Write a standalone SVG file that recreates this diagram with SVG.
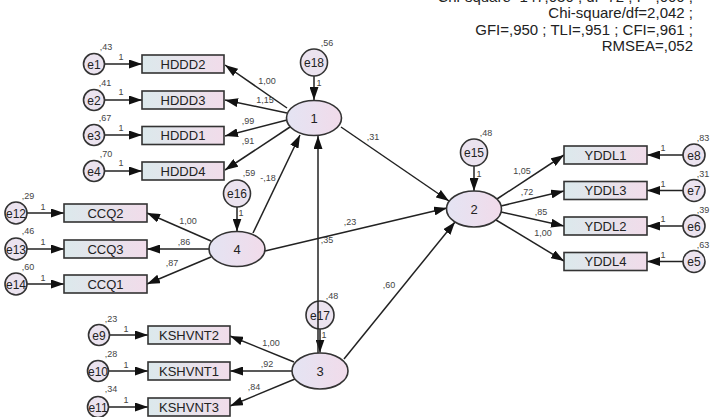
<svg xmlns="http://www.w3.org/2000/svg" width="715" height="417" viewBox="0 0 715 417">
<defs>
<linearGradient id="gRect" x1="0" y1="0" x2="1" y2="0">
<stop offset="0" stop-color="#dce9ec"/><stop offset="1" stop-color="#f1dcea"/>
</linearGradient>
<linearGradient id="gEll" x1="0" y1="0" x2="1" y2="0">
<stop offset="0" stop-color="#e4e4f3"/><stop offset="1" stop-color="#f1dbea"/>
</linearGradient>
<marker id="ah" markerUnits="userSpaceOnUse" markerWidth="13" markerHeight="9" viewBox="0 0 13 9" refX="13" refY="4.5" orient="auto">
<path d="M0,0 L13,4.5 L0,9 z" fill="#111"/>
</marker>
<style>
.obs{fill:url(#gRect);stroke:#333;stroke-width:1.6}
.lat{fill:url(#gEll);stroke:#333;stroke-width:1.6}
.err{fill:#ebe3ef;stroke:#333;stroke-width:1.6}
.nt{font-family:"Liberation Sans",Arial,sans-serif;font-size:13px;fill:#222;text-anchor:middle}
.et{font-family:"Liberation Sans",Arial,sans-serif;font-size:12px;fill:#222;text-anchor:middle}
.sl{font-family:"Liberation Sans",Arial,sans-serif;font-size:9px;fill:#444;text-anchor:middle}
.fit{font-family:"Liberation Sans",Arial,sans-serif;font-size:15px;fill:#222;text-anchor:end}
.c line{stroke:#222;stroke-width:1.5;marker-end:url(#ah)}
</style>
</defs>
<rect width="715" height="417" fill="#fff"/>

<g id="fit">
<text class="fit" x="693" y="2">Chi-square=147,030 ; df=72 ; P=,000 ;</text>
<text class="fit" x="693" y="18">Chi-square/df=2,042 ;</text>
<text class="fit" x="693" y="35">GFI=,950 ; TLI=,951 ; CFI=,961 ;</text>
<text class="fit" x="693" y="51">RMSEA=,052</text>
</g>

<g class="c" id="connectors">
<line x1="105" y1="64" x2="142" y2="64"/>
<line x1="105" y1="100" x2="142" y2="100"/>
<line x1="105" y1="135" x2="142" y2="135"/>
<line x1="105" y1="171" x2="142" y2="171"/>
<line x1="287" y1="108" x2="225" y2="65"/>
<line x1="287" y1="113" x2="225" y2="100"/>
<line x1="287" y1="120" x2="225" y2="136"/>
<line x1="290" y1="127" x2="225" y2="170"/>
<line x1="27" y1="213" x2="64" y2="213"/>
<line x1="27" y1="249" x2="64" y2="249"/>
<line x1="27" y1="284" x2="64" y2="284"/>
<line x1="211" y1="241" x2="147" y2="213"/>
<line x1="209" y1="249" x2="147" y2="249"/>
<line x1="211" y1="257" x2="147" y2="284"/>
<line x1="109" y1="335" x2="148" y2="335"/>
<line x1="109" y1="371" x2="148" y2="371"/>
<line x1="109" y1="407" x2="148" y2="407"/>
<line x1="294" y1="362" x2="230" y2="336"/>
<line x1="292" y1="371" x2="230" y2="371"/>
<line x1="295" y1="379" x2="230" y2="406"/>
<line x1="683" y1="155" x2="647" y2="155"/>
<line x1="683" y1="190.5" x2="647" y2="190.5"/>
<line x1="683" y1="226" x2="647" y2="226"/>
<line x1="683" y1="261.5" x2="647" y2="261.5"/>
<line x1="497" y1="199" x2="564" y2="155"/>
<line x1="501" y1="206" x2="564" y2="191"/>
<line x1="501" y1="212" x2="564" y2="226"/>
<line x1="496" y1="220" x2="564" y2="261"/>
<line x1="314" y1="76" x2="314" y2="100"/>
<line x1="474" y1="166" x2="474" y2="191"/>
<line x1="237" y1="207" x2="237" y2="231.5"/>
<line x1="320" y1="329" x2="320" y2="352.5"/>
<line x1="253" y1="233" x2="300" y2="135"/>
<line x1="318" y1="353" x2="318" y2="136"/>
<line x1="341" y1="127" x2="449" y2="201"/>
<line x1="265" y1="251" x2="447" y2="208"/>
<line x1="344" y1="359" x2="455" y2="222"/>
</g>

<g id="e1"><circle class="err" cx="94" cy="64" r="10.5"/><text class="et" x="94" y="68.5">e1</text><text class="sl" x="106" y="50">,43</text><text class="sl" x="121" y="60">1</text></g>
<g id="e2"><circle class="err" cx="94" cy="100" r="10.5"/><text class="et" x="94" y="104.5">e2</text><text class="sl" x="105" y="86">,41</text><text class="sl" x="121" y="95">1</text></g>
<g id="e3"><circle class="err" cx="94" cy="135" r="10.5"/><text class="et" x="94" y="139.5">e3</text><text class="sl" x="105" y="121">,67</text><text class="sl" x="121" y="131">1</text></g>
<g id="e4"><circle class="err" cx="94" cy="171" r="10.5"/><text class="et" x="94" y="175.5">e4</text><text class="sl" x="106" y="157">,70</text><text class="sl" x="121" y="166">1</text></g>

<g id="HDDD2"><rect class="obs" x="142" y="55" width="82" height="18"/><text class="nt" x="183" y="68.5">HDDD2</text></g>
<g id="HDDD3"><rect class="obs" x="142" y="91" width="82" height="18"/><text class="nt" x="183" y="104.5">HDDD3</text></g>
<g id="HDDD1"><rect class="obs" x="142" y="126.5" width="82" height="18"/><text class="nt" x="183" y="140">HDDD1</text></g>
<g id="HDDD4"><rect class="obs" x="142" y="162" width="82" height="18"/><text class="nt" x="183" y="175.5">HDDD4</text></g>

<g id="e12"><circle class="err" cx="16" cy="213" r="11"/><text class="et" x="16" y="217.5">e12</text><text class="sl" x="28" y="199">,29</text><text class="sl" x="43" y="210">1</text></g>
<g id="e13"><circle class="err" cx="16" cy="249" r="11"/><text class="et" x="16" y="253.5">e13</text><text class="sl" x="28" y="234">,46</text><text class="sl" x="43" y="245">1</text></g>
<g id="e14"><circle class="err" cx="16" cy="284" r="11"/><text class="et" x="16" y="288.5">e14</text><text class="sl" x="28" y="270">,60</text><text class="sl" x="43" y="281">1</text></g>

<g id="CCQ2"><rect class="obs" x="64" y="204" width="83" height="18"/><text class="nt" x="105.5" y="217.5">CCQ2</text></g>
<g id="CCQ3"><rect class="obs" x="64" y="240" width="83" height="18"/><text class="nt" x="105.5" y="253.5">CCQ3</text></g>
<g id="CCQ1"><rect class="obs" x="64" y="275" width="83" height="18"/><text class="nt" x="105.5" y="288.5">CCQ1</text></g>

<g id="e9"><circle class="err" cx="99" cy="335" r="10.5"/><text class="et" x="99" y="339.5">e9</text><text class="sl" x="111" y="322">,23</text><text class="sl" x="126" y="332">1</text></g>
<g id="e10"><circle class="err" cx="98" cy="371" r="10.5"/><text class="et" x="98" y="375.5">e10</text><text class="sl" x="111" y="357">,28</text><text class="sl" x="126" y="368">1</text></g>
<g id="e11"><circle class="err" cx="98" cy="407" r="10.5"/><text class="et" x="98" y="411.5">e11</text><text class="sl" x="111" y="392">,34</text><text class="sl" x="126" y="403">1</text></g>

<g id="KSHVNT2"><rect class="obs" x="148" y="326" width="82" height="18"/><text class="nt" x="189" y="339.5">KSHVNT2</text></g>
<g id="KSHVNT1"><rect class="obs" x="148" y="362" width="82" height="18"/><text class="nt" x="189" y="375.5">KSHVNT1</text></g>
<g id="KSHVNT3"><rect class="obs" x="148" y="398" width="82" height="18"/><text class="nt" x="189" y="411.5">KSHVNT3</text></g>

<g id="YDDL1"><rect class="obs" x="564" y="146" width="83" height="18"/><text class="nt" x="605.5" y="159.5">YDDL1</text></g>
<g id="YDDL3"><rect class="obs" x="564" y="181.5" width="83" height="18"/><text class="nt" x="605.5" y="195">YDDL3</text></g>
<g id="YDDL2"><rect class="obs" x="564" y="217" width="83" height="18"/><text class="nt" x="605.5" y="230.5">YDDL2</text></g>
<g id="YDDL4"><rect class="obs" x="564" y="252.5" width="83" height="18"/><text class="nt" x="605.5" y="266">YDDL4</text></g>

<g id="e8"><circle class="err" cx="694" cy="155" r="11"/><text class="et" x="694" y="159.5">e8</text><text class="sl" x="703" y="141">,83</text><text class="sl" x="663" y="151">1</text></g>
<g id="e7"><circle class="err" cx="694" cy="190.5" r="11"/><text class="et" x="694" y="195">e7</text><text class="sl" x="703" y="177">,31</text><text class="sl" x="663" y="187">1</text></g>
<g id="e6"><circle class="err" cx="694" cy="226" r="11"/><text class="et" x="694" y="230.5">e6</text><text class="sl" x="703" y="213">,39</text><text class="sl" x="663" y="222">1</text></g>
<g id="e5"><circle class="err" cx="694" cy="261.5" r="11"/><text class="et" x="694" y="266">e5</text><text class="sl" x="703" y="248">,63</text><text class="sl" x="663" y="258">1</text></g>

<g id="e18"><circle class="err" cx="314" cy="62.5" r="13.5"/><text class="et" x="314" y="67">e18</text><text class="sl" x="327" y="46">,56</text><text class="sl" x="319" y="86">1</text></g>
<g id="e15"><circle class="err" cx="474" cy="152.5" r="13.5"/><text class="et" x="474" y="157">e15</text><text class="sl" x="486" y="136">,48</text><text class="sl" x="479" y="177">1</text></g>
<g id="e16"><circle class="err" cx="237" cy="193.5" r="13.5"/><text class="et" x="237" y="198">e16</text><text class="sl" x="249" y="176">,59</text><text class="sl" x="241" y="216">1</text></g>
<g id="e17"><circle class="err" cx="320" cy="315" r="14"/><text class="et" x="320" y="319.5">e17</text><text class="sl" x="332" y="299">,48</text><text class="sl" x="324" y="338">1</text></g>
<line x1="318" y1="301" x2="318" y2="329" stroke="#222" stroke-width="1.5"/>

<g id="n1"><ellipse class="lat" cx="314" cy="118" rx="27.5" ry="17.5"/><text class="nt" x="314" y="122.5">1</text></g>
<g id="n2"><ellipse class="lat" cx="474" cy="209" rx="27.5" ry="18"/><text class="nt" x="474" y="213.5">2</text></g>
<g id="n4"><ellipse class="lat" cx="237" cy="249" rx="28" ry="17.5"/><text class="nt" x="237" y="253.5">4</text></g>
<g id="n3"><ellipse class="lat" cx="320" cy="371" rx="28" ry="18"/><text class="nt" x="320" y="375.5">3</text></g>

<g id="pathlabels">
<text class="sl" x="267" y="84">1,00</text>
<text class="sl" x="265" y="103">1,15</text>
<text class="sl" x="248" y="124">,99</text>
<text class="sl" x="248" y="144">,91</text>
<text class="sl" x="268" y="181">-,18</text>
<text class="sl" x="373" y="140">,31</text>
<text class="sl" x="350" y="225">,23</text>
<text class="sl" x="327" y="243">,35</text>
<text class="sl" x="389" y="288">,60</text>
<text class="sl" x="522" y="174">1,05</text>
<text class="sl" x="527" y="195">,72</text>
<text class="sl" x="541" y="215">,85</text>
<text class="sl" x="543" y="236">1,00</text>
<text class="sl" x="188" y="224">1,00</text>
<text class="sl" x="184" y="245">,86</text>
<text class="sl" x="172" y="266">,87</text>
<text class="sl" x="271" y="346">1,00</text>
<text class="sl" x="267" y="367">,92</text>
<text class="sl" x="254" y="390">,84</text>
</g>
</svg>
